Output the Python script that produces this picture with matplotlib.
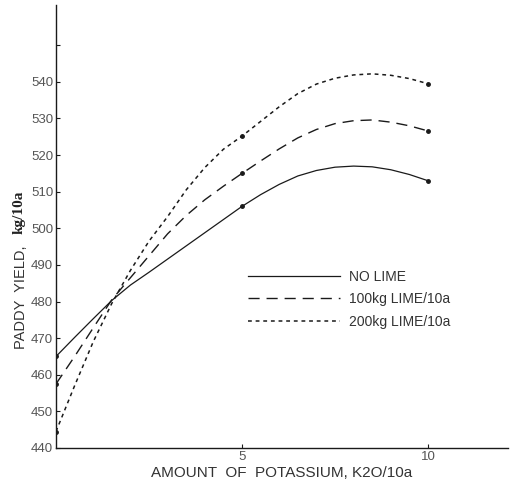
import numpy as np
import matplotlib
matplotlib.use("Agg")
from matplotlib import pyplot as plt  # noqa

# potassium rate (K2O kg/10a) where the curves were read
potassium = [0, 0.5, 1, 1.5, 2, 2.5, 3, 3.5, 4, 4.5, 5,
             5.5, 6, 6.5, 7, 7.5, 8, 8.5, 9, 9.5, 10]

no_lime = [465, 470.2, 475.3, 480.3, 484.5, 488, 491.6, 495.2, 498.8, 502.4, 506,
           509.2, 512, 514.3, 515.8, 516.7, 517, 516.8, 516, 514.7, 513]
lime_100 = [457.5, 465, 472.8, 480.5, 486.5, 492.5, 498.5, 503.5, 507.8, 511.5, 515,
            518.4, 521.7, 524.7, 527, 528.6, 529.4, 529.6, 529, 528, 526.6]
lime_200 = [444.5, 457, 469, 479.5, 488.5, 496.5, 503.2, 510.5, 516.6, 521.6, 525.2,
            529.2, 533.2, 536.8, 539.4, 541, 541.9, 542.2, 541.8, 540.9, 539.5]

series_labels = ['NO LIME', '100kg LIME/10a', '200kg LIME/10a']
yticks = [440, 450, 460, 470, 480, 490, 500, 510, 520, 530, 540, 550]
ytick_labels = [str(t) for t in yticks[:-1]] + ['']

plt.rcParams['font.family'] = ['Liberation Sans', 'DejaVu Sans']

fig = plt.figure(figsize=(5.11, 4.82), dpi=100)
ax = fig.add_axes([56 / 511, 34 / 482, 452 / 511, 443 / 482])

marks = [0, 10, 20]
ink = '#1a1a1a'
ax.plot(potassium, no_lime, color=ink, lw=0.9, marker='o', ms=2.5,
        markevery=marks, label=series_labels[0])
ax.plot(potassium, lime_100, color=ink, lw=1.0, dashes=(8, 5), marker='o', ms=2.5,
        markevery=marks, label=series_labels[1])
ax.plot(potassium, lime_200, color=ink, lw=1.1, dashes=(2.5, 2.5), marker='o', ms=2.5,
        markevery=marks, label=series_labels[2])

ax.set_xlim(0, 12.15)
ax.set_ylim(440, 561)
ax.set_xticks([5, 10])
ax.set_xticklabels(['5', '10'])
ax.set_yticks(yticks)
ax.set_yticklabels(ytick_labels)
ax.tick_params(direction='in', length=3, width=0.8, colors=ink,
               labelcolor='#555555', labelsize=9.5, pad=2)
for s in ['top', 'right']:
    ax.spines[s].set_visible(False)
for s in ['left', 'bottom']:
    ax.spines[s].set_color(ink)
    ax.spines[s].set_linewidth(1.0)

ax.set_xlabel('AMOUNT  OF  POTASSIUM, K2O/10a', fontsize=11, color='#333333',
              labelpad=2)

fig.text(21 / 511, 1 - 297 / 482, 'PADDY  YIELD,', rotation=90, ha='center', va='center',
         fontsize=10.5, color='#333333')
fig.text(19 / 511, 1 - 212 / 482, 'kg/10a', rotation=90, ha='center', va='center',
         fontsize=11, fontweight='bold', color='#222222',
         family=['Liberation Serif', 'DejaVu Serif'])

leg = ax.legend(loc='upper left', bbox_to_anchor=(248 / 511, 1 - 270 / 482),
                bbox_transform=fig.transFigure, frameon=False, fontsize=10,
                handlelength=6.6, handletextpad=0.7, labelspacing=0.6, borderpad=0,
                borderaxespad=0, markerscale=0)
for t in leg.get_texts():
    t.set_color('#333333')

fig.savefig('out.png', dpi=100)
